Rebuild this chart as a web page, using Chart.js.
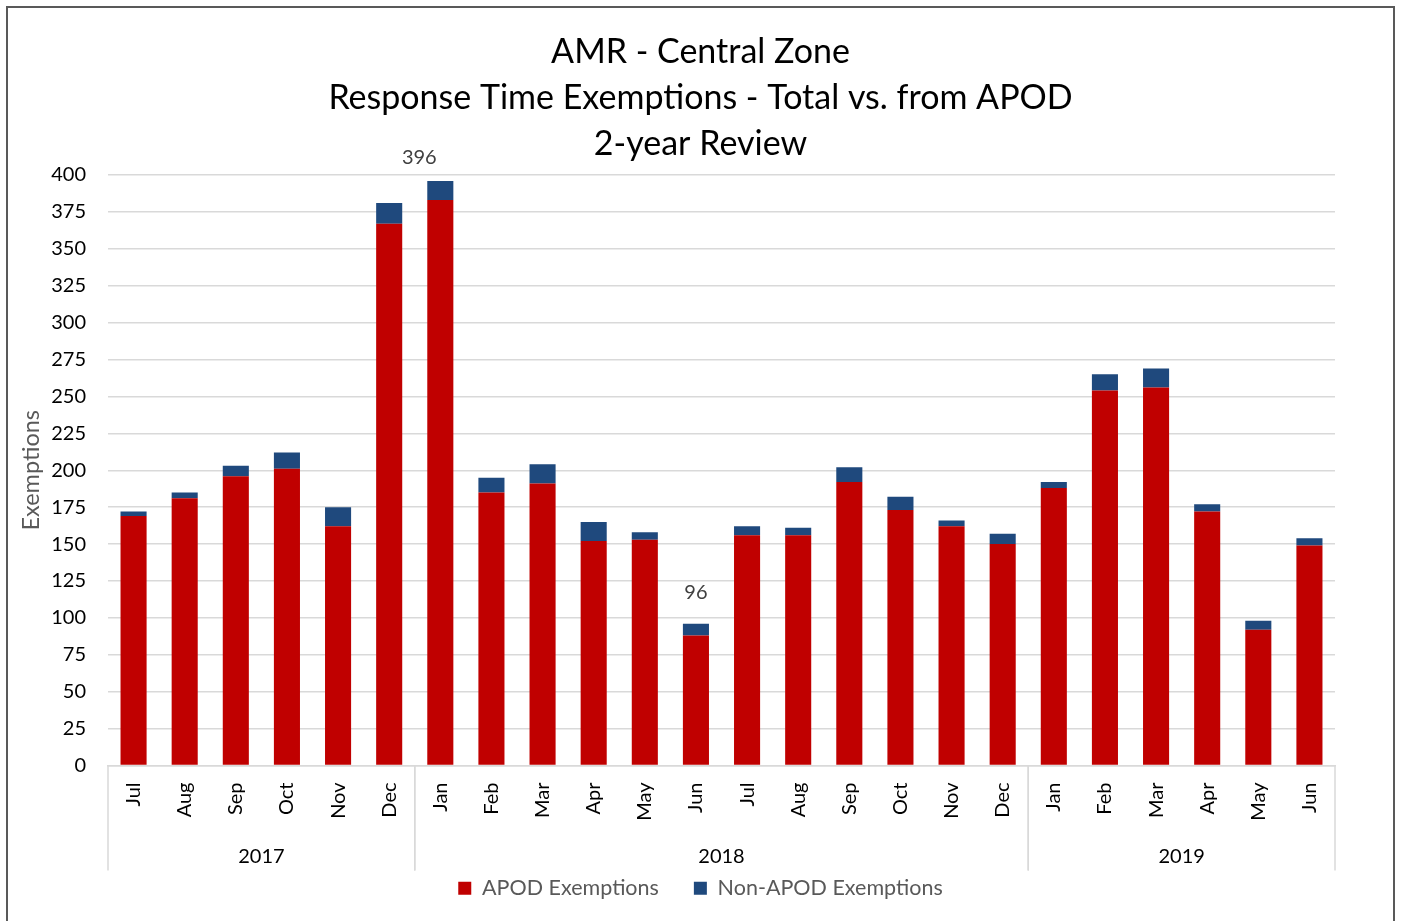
<!DOCTYPE html>
<html>
<head>
<meta charset="utf-8">
<script src="https://cdn.jsdelivr.net/npm/chart.js@4"></script>
<style>
  html, body { margin: 0; padding: 0; background: #fff; }
  #wrap { position: absolute; left: 0; top: 0; width: 1401px; height: 921px; }
  #frame { position: absolute; left: 6px; top: 6px; width: 1389px; height: 940px; border: 2px solid #595959; box-sizing: border-box; pointer-events: none; }
</style>
</head>
<body>
<div id="wrap"><canvas id="chart"></canvas></div>
<div id="frame"></div>
<script>
// Данные графика
const months = ["Jul", "Aug", "Sep", "Oct", "Nov", "Dec",
  "Jan", "Feb", "Mar", "Apr", "May", "Jun", "Jul", "Aug", "Sep", "Oct", "Nov", "Dec",
  "Jan", "Feb", "Mar", "Apr", "May", "Jun"];
const years = ["2017", "2018", "2019"];
const yearSpans = [6, 12, 6]; // сколько месяцев в каждом году
const apod = [169, 181, 196, 201, 162, 367, 383, 185, 191, 152, 153, 88,
  156, 156, 192, 173, 162, 150, 188, 254, 256, 172, 92, 149];
const nonApod = [3, 4, 7, 11, 13, 14, 13, 10, 13, 13, 5, 8,
  6, 5, 10, 9, 4, 7, 4, 11, 13, 5, 6, 5];
const labeledBars = [6, 11]; // столбцы с подписью суммы

const FONT = "Lato";

// Подписи годов и разделители под осью X
const yearGroups = {
  id: "yearGroups",
  afterDraw(chart) {
    const ctx = chart.ctx;
    const x = chart.scales.x;
    const base = chart.chartArea.bottom;
    const half = (x.getPixelForValue(1) - x.getPixelForValue(0)) / 2;
    let start = 0;
    ctx.save();
    ctx.strokeStyle = "#d9d9d9";
    ctx.lineWidth = 1.5;
    ctx.fillStyle = "#000";
    ctx.font = "20px " + FONT;
    ctx.textAlign = "center";
    ctx.textBaseline = "middle";
    years.forEach((yr, i) => {
      const left = x.getPixelForValue(start) - half;
      const right = x.getPixelForValue(start + yearSpans[i] - 1) + half;
      [left, right].forEach((px) => {
        ctx.beginPath();
        ctx.moveTo(px, base);
        ctx.lineTo(px, base + 105);
        ctx.stroke();
      });
      ctx.fillText(yr, (left + right) / 2, base + 91);
      start += yearSpans[i];
    });
    ctx.restore();
  },
};

// Подписи итогов над выбранными столбцами
// (подпись над январём 2018 сдвинута влево, как в исходнике, чтобы не задевать заголовок)
const labelShift = { 6: { dx: -21, dy: -23 }, 11: { dx: 0, dy: -31 } };
const totalLabels = {
  id: "totalLabels",
  afterDatasetsDraw(chart) {
    const ctx = chart.ctx;
    ctx.save();
    ctx.fillStyle = "#404040";
    ctx.font = "20px " + FONT;
    ctx.textAlign = "center";
    ctx.textBaseline = "middle";
    labeledBars.forEach((i) => {
      const total = apod[i] + nonApod[i];
      const s = labelShift[i] || { dx: 0, dy: -25 };
      const px = chart.scales.x.getPixelForValue(i);
      const py = chart.scales.y.getPixelForValue(total);
      ctx.fillText(String(total), px + s.dx, py + s.dy);
    });
    ctx.restore();
  },
};

const ctx = document.getElementById("chart").getContext("2d");
new Chart(ctx, {
  type: "bar",
  data: {
    labels: months,
    datasets: [
      {
        label: "APOD Exemptions",
        data: apod,
        backgroundColor: "#C00000",
        categoryPercentage: 1,
        barPercentage: 0.51,
      },
      {
        label: "Non-APOD Exemptions",
        data: nonApod,
        backgroundColor: "#1F497D",
        categoryPercentage: 1,
        barPercentage: 0.51,
      },
    ],
  },
  options: {
    responsive: true,
    maintainAspectRatio: false,
    animation: false,
    layout: { padding: { left: 0, right: 0, top: 0, bottom: 12 } },
    plugins: {
      title: {
        display: true,
        text: ["AMR - Central Zone", "Response Time Exemptions - Total vs. from APOD", "2-year Review"],
        color: "#000",
        font: { family: FONT, size: 34, weight: "normal", lineHeight: 1.353 },
        padding: { top: 29, bottom: 8 },
      },
      legend: {
        position: "bottom",
        maxHeight: 79,
        labels: {
          boxWidth: 13,
          boxHeight: 13,
          padding: 35,
          color: "#595959",
          font: { family: FONT, size: 21.5 },
        },
      },
      tooltip: { enabled: false },
    },
    scales: {
      x: {
        stacked: true,
        grid: { display: false, drawTicks: false },
        border: { color: "#d9d9d9", width: 1.5 },
        ticks: {
          maxRotation: 90,
          minRotation: 90,
          autoSkip: false,
          padding: 17,
          color: "#000",
          font: { family: FONT, size: 20 },
        },
        afterFit(scale) {
          scale.height = 77;
        },
      },
      y: {
        stacked: true,
        min: 0,
        max: 400,
        grid: { color: "#d9d9d9", lineWidth: 1.5, drawTicks: false },
        border: { display: false },
        ticks: {
          stepSize: 25,
          padding: 22,
          color: "#000",
          font: { family: FONT, size: 20 },
        },
        title: {
          display: true,
          text: "Exemptions",
          color: "#595959",
          font: { family: FONT, size: 23.5 },
          padding: { top: 17, bottom: 0 },
        },
        afterFit(scale) {
          scale.width = 108;
        },
      },
      // пустая правая ось — только чтобы оставить поле справа
      yRight: {
        position: "right",
        min: 0,
        max: 400,
        grid: { display: false, drawTicks: false },
        border: { display: false },
        ticks: { display: false },
        afterFit(scale) {
          scale.width = 66;
        },
      },
    },
  },
  plugins: [yearGroups, totalLabels],
});
</script>
</body>
</html>
